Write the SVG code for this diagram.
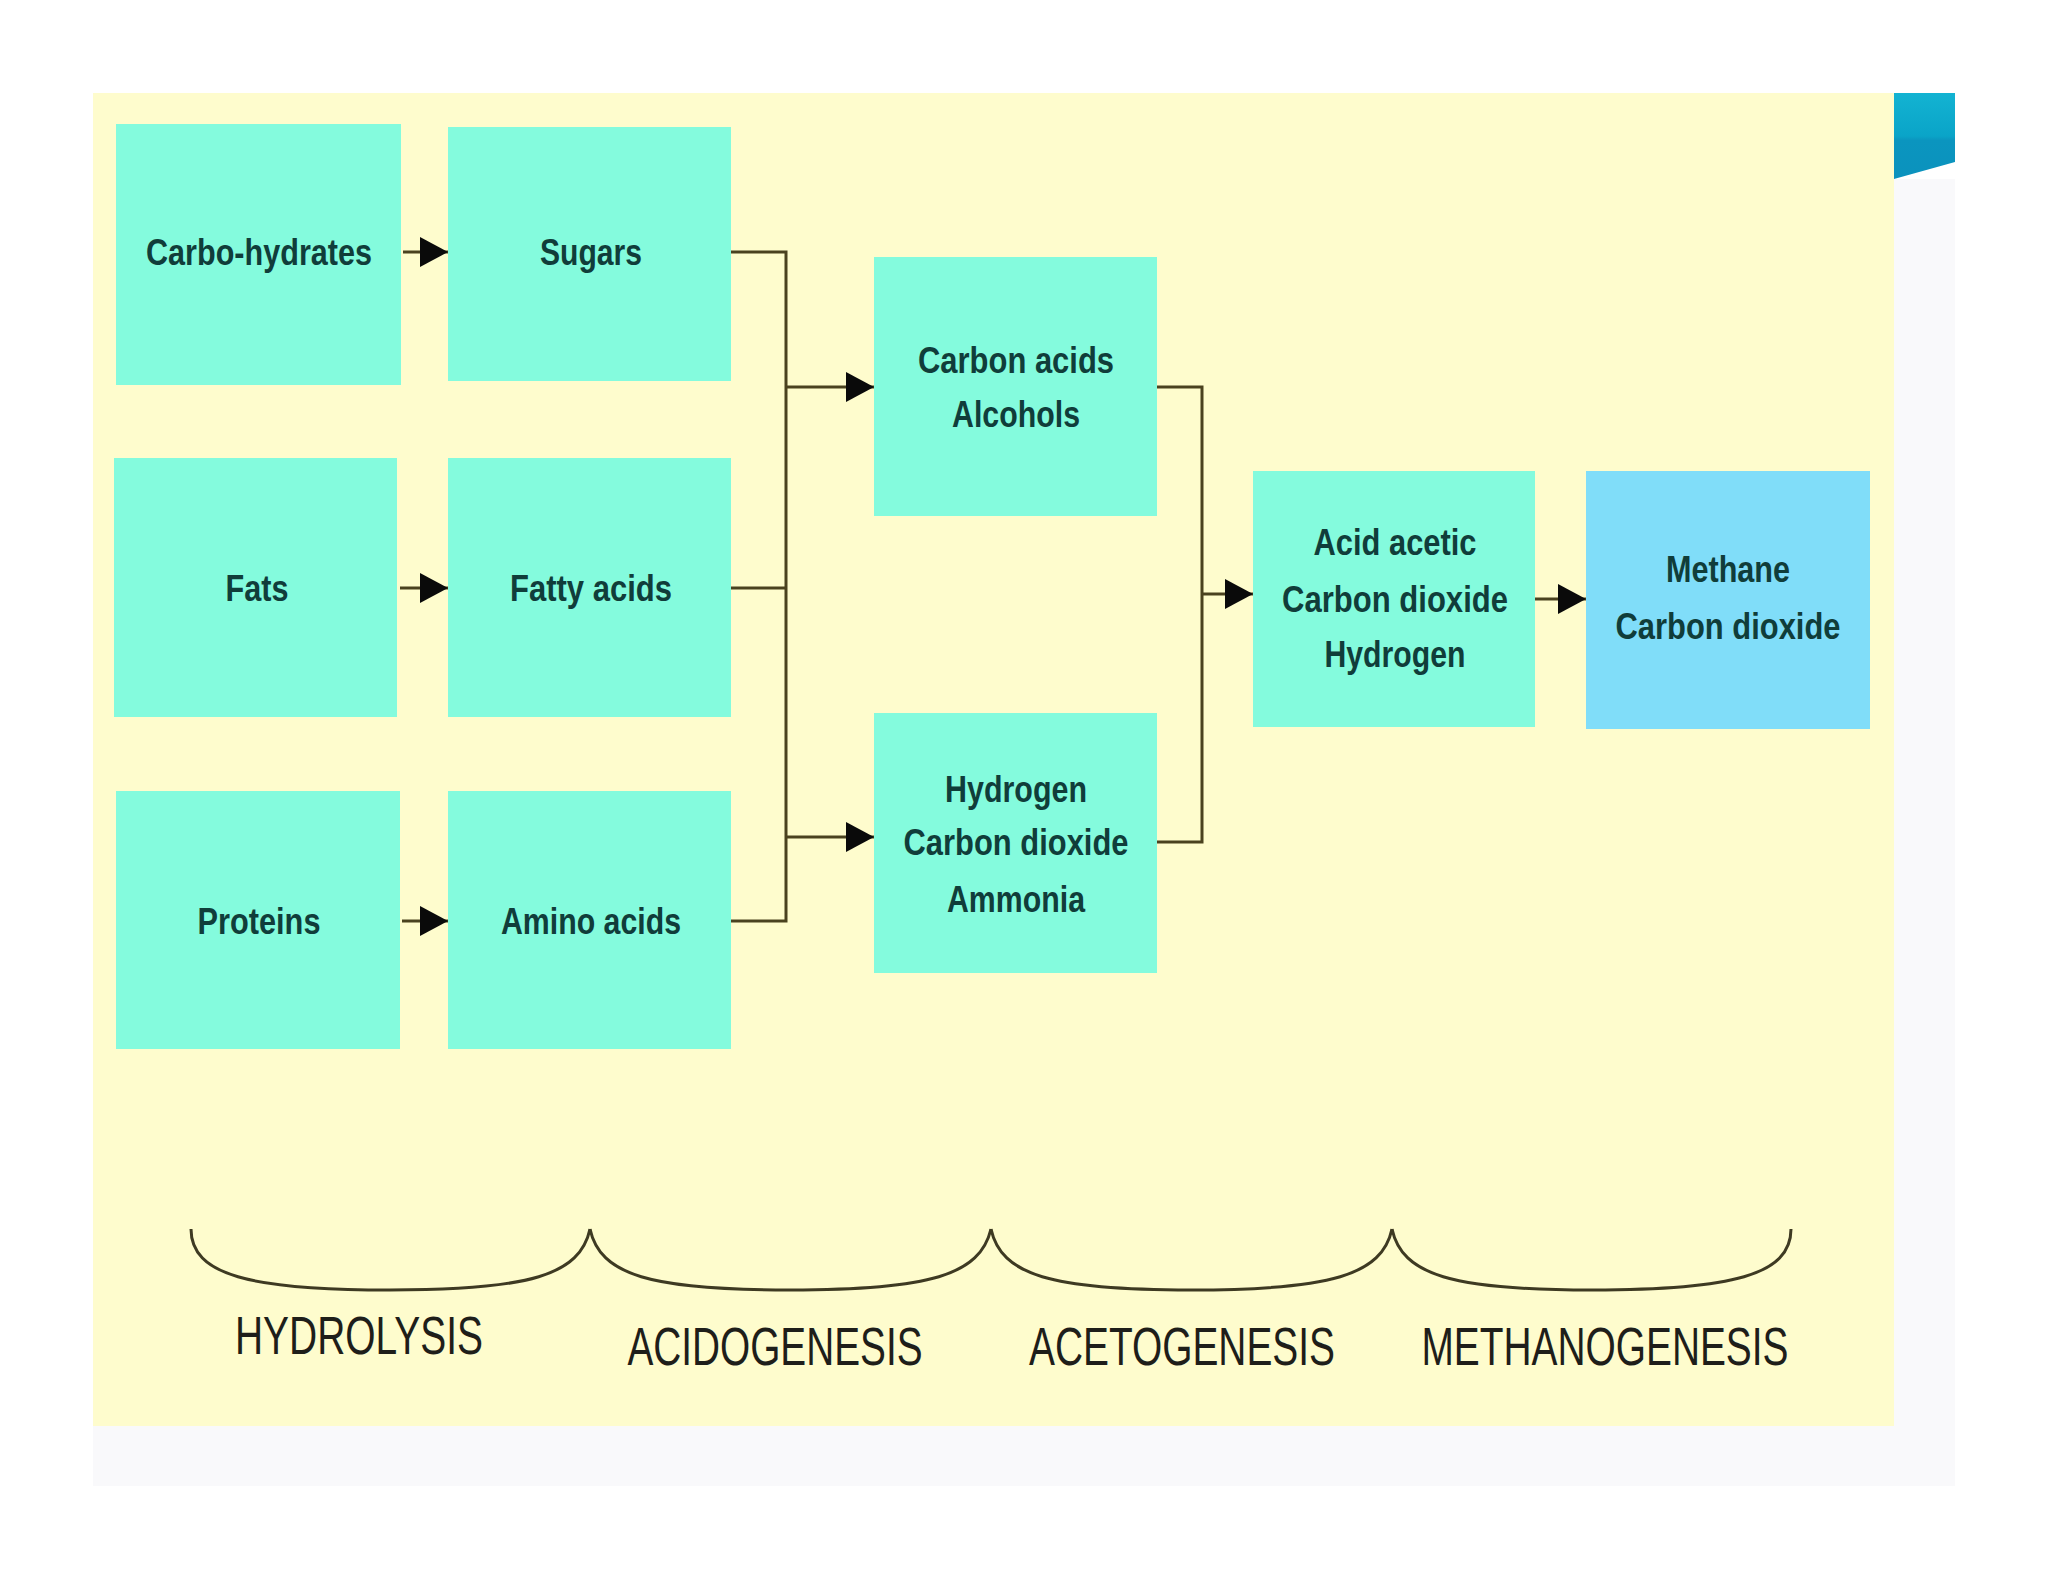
<svg xmlns="http://www.w3.org/2000/svg" width="2048" height="1582" viewBox="0 0 2048 1582">
<defs>
<style>
.box{fill:#84fbdd}
.box2{fill:#80ddf9}
.t{font-family:"Liberation Sans",Arial,sans-serif;font-weight:bold;font-size:36px;fill:#103d3a;text-anchor:middle}
.lab{font-family:"Liberation Sans",Arial,sans-serif;font-size:54px;fill:#1e1e1a;text-anchor:middle}
.ln{fill:none;stroke:#4a421f;stroke-width:3}
.br{fill:none;stroke:#3e3a22;stroke-width:3}
</style>
<marker id="ah" markerUnits="userSpaceOnUse" markerWidth="30" markerHeight="32" refX="28" refY="16" orient="auto">
<path d="M0,1 L28,16 L0,31 z" fill="#0a0a0a"/>
</marker>
<linearGradient id="acc" x1="0" y1="0" x2="0" y2="1">
<stop offset="0" stop-color="#13b3d2"/>
<stop offset="0.5" stop-color="#0aa4c8"/>
<stop offset="0.55" stop-color="#0b95bf"/>
<stop offset="1" stop-color="#0b92bd"/>
</linearGradient>
</defs>
<rect x="0" y="0" width="2048" height="1582" fill="#ffffff"/>
<rect x="1894" y="179" width="61" height="1307" fill="#f9f9fb"/>
<rect x="93" y="1426" width="1862" height="60" fill="#f9f9fb"/>
<rect x="93" y="93" width="1801" height="1333" fill="#fefccd"/>
<path d="M1894,93 L1955,93 L1955,162 L1894,179 z" fill="url(#acc)"/>

<g id="connectors">
<line class="ln" x1="403" y1="252" x2="448" y2="252" marker-end="url(#ah)"/>
<line class="ln" x1="400" y1="588" x2="448" y2="588" marker-end="url(#ah)"/>
<line class="ln" x1="402" y1="921" x2="448" y2="921" marker-end="url(#ah)"/>
<polyline class="ln" points="731,252 786,252 786,921 731,921"/>
<line class="ln" x1="731" y1="588" x2="786" y2="588"/>
<line class="ln" x1="786" y1="387" x2="874" y2="387" marker-end="url(#ah)"/>
<line class="ln" x1="786" y1="837" x2="874" y2="837" marker-end="url(#ah)"/>
<polyline class="ln" points="1157,387 1202,387 1202,842 1157,842"/>
<line class="ln" x1="1202" y1="594" x2="1253" y2="594" marker-end="url(#ah)"/>
<line class="ln" x1="1535" y1="599" x2="1586" y2="599" marker-end="url(#ah)"/>
</g>

<g id="n-carbohydrates"><rect class="box" x="116" y="124" width="285" height="261"/><text class="t" x="259" y="265" textLength="226" lengthAdjust="spacingAndGlyphs">Carbo-hydrates</text></g>
<g id="n-sugars"><rect class="box" x="448" y="127" width="283" height="254"/><text class="t" x="591" y="265" textLength="102" lengthAdjust="spacingAndGlyphs">Sugars</text></g>
<g id="n-fats"><rect class="box" x="114" y="458" width="283" height="259"/><text class="t" x="257" y="601" textLength="63" lengthAdjust="spacingAndGlyphs">Fats</text></g>
<g id="n-fattyacids"><rect class="box" x="448" y="458" width="283" height="259"/><text class="t" x="591" y="601" textLength="162" lengthAdjust="spacingAndGlyphs">Fatty acids</text></g>
<g id="n-proteins"><rect class="box" x="116" y="791" width="284" height="258"/><text class="t" x="259" y="934" textLength="123" lengthAdjust="spacingAndGlyphs">Proteins</text></g>
<g id="n-aminoacids"><rect class="box" x="448" y="791" width="283" height="258"/><text class="t" x="591" y="934" textLength="180" lengthAdjust="spacingAndGlyphs">Amino acids</text></g>
<g id="n-carbonacids"><rect class="box" x="874" y="257" width="283" height="259"/>
<text class="t" x="1016" y="373" textLength="196" lengthAdjust="spacingAndGlyphs">Carbon acids</text>
<text class="t" x="1016" y="427" textLength="128" lengthAdjust="spacingAndGlyphs">Alcohols</text></g>
<g id="n-hydrogen"><rect class="box" x="874" y="713" width="283" height="260"/>
<text class="t" x="1016" y="802" textLength="142" lengthAdjust="spacingAndGlyphs">Hydrogen</text>
<text class="t" x="1016" y="855" textLength="225" lengthAdjust="spacingAndGlyphs">Carbon dioxide</text>
<text class="t" x="1016" y="912" textLength="138" lengthAdjust="spacingAndGlyphs">Ammonia</text></g>
<g id="n-acidacetic"><rect class="box" x="1253" y="471" width="282" height="256"/>
<text class="t" x="1395" y="555" textLength="163" lengthAdjust="spacingAndGlyphs">Acid acetic</text>
<text class="t" x="1395" y="612" textLength="226" lengthAdjust="spacingAndGlyphs">Carbon dioxide</text>
<text class="t" x="1395" y="667" textLength="141" lengthAdjust="spacingAndGlyphs">Hydrogen</text></g>
<g id="n-methane"><rect class="box2" x="1586" y="471" width="284" height="258"/>
<text class="t" x="1728" y="582" textLength="124" lengthAdjust="spacingAndGlyphs">Methane</text>
<text class="t" x="1728" y="639" textLength="225" lengthAdjust="spacingAndGlyphs">Carbon dioxide</text></g>

<g id="stages">
<path class="br" d="M191,1229 C191,1275 250,1290 390,1290 C530,1290 580,1275 590,1229"/>
<path class="br" d="M590,1229 C600,1275 650,1290 790,1290 C930,1290 980,1275 991,1229"/>
<path class="br" d="M991,1229 C1001,1275 1051,1290 1191,1290 C1331,1290 1382,1275 1392,1229"/>
<path class="br" d="M1392,1229 C1402,1275 1452,1290 1592,1290 C1732,1290 1791,1275 1791,1229"/>
<text class="lab" x="359" y="1354" textLength="248" lengthAdjust="spacingAndGlyphs">HYDROLYSIS</text>
<text class="lab" x="775" y="1365" textLength="295" lengthAdjust="spacingAndGlyphs">ACIDOGENESIS</text>
<text class="lab" x="1182" y="1365" textLength="306" lengthAdjust="spacingAndGlyphs">ACETOGENESIS</text>
<text class="lab" x="1605" y="1365" textLength="367" lengthAdjust="spacingAndGlyphs">METHANOGENESIS</text>
</g>
</svg>
